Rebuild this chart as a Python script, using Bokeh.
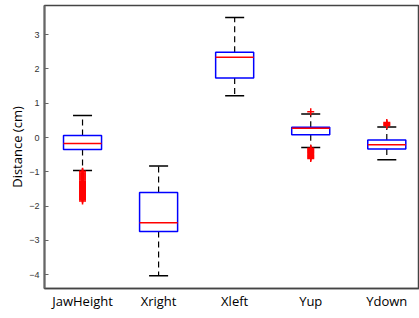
from bokeh.plotting import figure
from bokeh.models import ColumnDataSource, FixedTicker, Range1d
from bokeh.transform import dodge
from bokeh.embed import file_html
from bokeh.resources import INLINE

categories = ["JawHeight", "Xright", "Xleft", "Yup", "Ydown"]
q1 = [-0.35, -2.74, 1.74, 0.08, -0.33]
median = [-0.17, -2.48, 2.34, 0.27, -0.21]
q3 = [0.06, -1.60, 2.49, 0.30, -0.07]
lower_whisker = [-0.96, -4.03, 1.22, -0.29, -0.65]
upper_whisker = [0.64, -0.83, 3.50, 0.69, 0.31]

outliers_jaw = [-0.98, -1.00, -1.03, -1.06, -1.09, -1.12, -1.15, -1.18, -1.21, -1.24,
                -1.27, -1.30, -1.33, -1.36, -1.39, -1.42, -1.45, -1.48, -1.51, -1.54,
                -1.57, -1.60, -1.63, -1.66, -1.69, -1.72, -1.75, -1.78, -1.81, -1.85]
outliers_xright = []
outliers_xleft = []
outliers_yup = [0.75, -0.31, -0.34, -0.37, -0.40, -0.43, -0.46, -0.49, -0.52, -0.55, -0.58, -0.61]
outliers_ydown = [0.35, 0.38, 0.41, 0.44]
outliers = [outliers_jaw, outliers_xright, outliers_xleft, outliers_yup, outliers_ydown]

y_ticks = [-4, -3, -2, -1, 0, 1, 2, 3]

xpos = list(range(1, len(categories) + 1))
src = ColumnDataSource(dict(x=xpos, q1=q1, med=median, q3=q3, lo=lower_whisker, hi=upper_whisker))

ox, oy = [], []
for xi, vals in zip(xpos, outliers):
    for v in vals:
        ox.append(xi)
        oy.append(v)
osrc = ColumnDataSource(dict(x=ox, y=oy))

p = figure(width=419, height=312, output_backend="svg", toolbar_location=None,
           x_range=Range1d(0.5, 5.43), y_range=Range1d(-4.4, 3.85),
           min_border_top=5, min_border_right=0, min_border_bottom=0, min_border_left=44)
p.xgrid.visible = False
p.ygrid.visible = False
p.outline_line_color = "#444444"
p.outline_line_width = 1.5
p.background_fill_color = "white"

# whiskers
p.segment(x0="x", y0="q3", x1="x", y1="hi", source=src, line_color="black", line_width=1.2, line_dash="6 4")
p.segment(x0="x", y0="q1", x1="x", y1="lo", source=src, line_color="black", line_width=1.2, line_dash="6 4")
# caps
p.segment(x0=dodge("x", -0.125), y0="hi", x1=dodge("x", 0.125), y1="hi", source=src, line_color="black", line_width=1.5)
p.segment(x0=dodge("x", -0.125), y0="lo", x1=dodge("x", 0.125), y1="lo", source=src, line_color="black", line_width=1.5)
# boxes
p.vbar(x="x", width=0.5, bottom="q1", top="q3", source=src, fill_color="white", line_color="blue", line_width=1.5)
# medians
p.segment(x0=dodge("x", -0.25), y0="med", x1=dodge("x", 0.25), y1="med", source=src, line_color="red", line_width=1.5)
# outliers
p.scatter(x="x", y="y", source=osrc, marker="cross", size=7, line_color="red", line_width=1.5)

p.yaxis.ticker = FixedTicker(ticks=y_ticks)
p.yaxis.axis_label = "Distance (cm)"
p.yaxis.axis_label_text_font = "Open Sans"
p.yaxis.axis_label_text_font_style = "normal"
p.yaxis.axis_label_text_font_size = "13px"
p.yaxis.axis_label_text_color = "black"
p.yaxis.axis_label_standoff = 0
p.yaxis.major_label_text_font = "Liberation Sans"
p.yaxis.major_label_text_font_size = "9px"
p.yaxis.major_label_text_color = "#333333"
p.yaxis.major_tick_in = 4
p.yaxis.major_tick_out = 0
p.yaxis.minor_tick_line_color = None
p.yaxis.axis_line_color = "#666666"
p.yaxis.axis_line_width = 2
p.yaxis.major_tick_line_color = "#666666"
p.yaxis.major_label_standoff = 5

p.xaxis.ticker = FixedTicker(ticks=xpos)
p.xaxis.major_label_overrides = {x: c for x, c in zip(xpos, categories)}
p.xaxis.major_label_text_font = "Open Sans"
p.xaxis.major_label_text_font_size = "13px"
p.xaxis.major_label_text_color = "black"
p.xaxis.major_tick_line_color = None
p.xaxis.major_tick_in = 0
p.xaxis.major_tick_out = 0
p.xaxis.minor_tick_line_color = None
p.xaxis.major_label_standoff = 3
p.xaxis.axis_line_color = "#444444"
p.xaxis.axis_line_width = 1.5

open("out.html", "w").write(file_html(p, INLINE))
